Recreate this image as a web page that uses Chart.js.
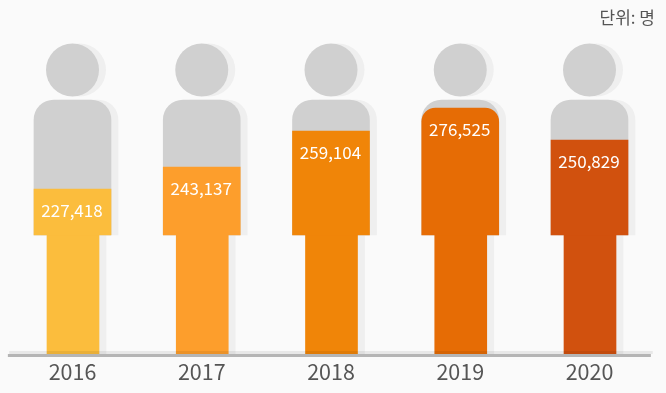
<!DOCTYPE html>
<html>
<head>
<meta charset="utf-8">
<script src="https://cdn.jsdelivr.net/npm/chart.js@4"></script>
<style>
  html, body { margin: 0; padding: 0; background: #fafafa; }
  canvas { display: block; }
</style>
</head>
<body>
<canvas id="myChart" width="666" height="393"></canvas>
<script>
//*************DATA******************* */
const years = ["2016", "2017", "2018", "2019", "2020"];
const people = [227418, 243137, 259104, 276525, 250829];
// height of the coloured fill (it is not proportional to the numbers)
const fillLevels = [165, 187, 223, 246, 214];
const fillColors = ["#fbbd3d", "#fd9e2c", "#f08508", "#e66c05", "#d1510e"];
const unitLabel = "단위: 명";
//********************************************** */

// figure parts, in y axis units
const legTop = 119, torsoTop = 254, headY = 284;
const xIndex = years.map((y, i) => i);
const FONT = '"Noto Sans CJK KR", "Noto Sans", sans-serif';
const GRAY = "#d0d0d0", SHADOW = "#efefef";

const range = (from, to) => xIndex.map((i) => ({ x: i, y: [from, to] }));
const head = xIndex.map((i) => ({ x: i, y: headY }));

const bar = (data, width, color, xAxisID, order, extra) =>
  Object.assign({ type: "bar", data, barThickness: width, backgroundColor: color,
    grouped: false, xAxisID, order, borderSkipped: false }, extra);
const round = { borderRadius: { topLeft: 20, topRight: 20, bottomLeft: 0, bottomRight: 0 } };
const dot = (color, xAxisID, order) => ({ type: "scatter", data: head, xAxisID, order,
  pointRadius: 26.5, pointHoverRadius: 26.5, backgroundColor: color, borderWidth: 0, clip: false });

const datasets = [
  // shadow, on the shifted axis
  dot(SHADOW, "xShadow", 20),
  bar(range(legTop, torsoTop), 77, SHADOW, "xShadow", 19, round),
  bar(range(0, legTop), 53, SHADOW, "xShadow", 18),
  // figure
  dot(GRAY, "x", 10),
  bar(range(legTop, torsoTop), 77, GRAY, "x", 9, round),
  bar(range(0, legTop), 52, fillColors, "xLegs", 8),
  bar(xIndex.map((i) => ({ x: i, y: [legTop, fillLevels[i]] })), 77, fillColors, "x", 7, {
    borderRadius: (c) => {
      const r = fillLevels[c.dataIndex] > torsoTop - 20 ? 14 : 0;
      return { topLeft: r, topRight: r, bottomLeft: 0, bottomRight: 0 };
    },
  }),
  // faint band and axis line
  { type: "line", data: [{ x: -0.49, y: 1.5 }, { x: 4.49, y: 1.5 }], xAxisID: "x", order: 2,
    borderColor: "rgba(0,0,0,0.07)", borderWidth: 3, pointRadius: 0 },
  { type: "line", data: [{ x: -0.507, y: -1.5 }, { x: 4.475, y: -1.5 }], xAxisID: "x", order: 1,
    borderColor: "#b5b5b5", borderWidth: 3, pointRadius: 0 },
];

const textPlugin = {
  id: "textPlugin",
  afterDatasetsDraw(chart) {
    const { ctx, scales } = chart;
    ctx.save();
    ctx.fillStyle = "#fff";
    ctx.font = "17px " + FONT;
    ctx.textAlign = "center";
    ctx.textBaseline = "middle";
    people.forEach((v, i) => {
      ctx.fillText(v.toLocaleString("en-US"), scales.x.getPixelForValue(i) - 0.5, scales.y.getPixelForValue(fillLevels[i]) + 22);
    });
    ctx.fillStyle = "#555";
    ctx.font = "17px " + FONT;
    ctx.textAlign = "right";
    ctx.fillText(unitLabel, 655, 18);
    ctx.restore();
  },
};

// hidden copy of the x axis moved by some pixels to the right
const shifted = (px) => ({ type: "linear", display: false, offset: false, min: -0.5 - px / 129.25, max: 4.5 - px / 129.25 });

const myChart = new Chart(document.getElementById("myChart"), {
  data: { datasets },
  plugins: [textPlugin],
  options: {
    responsive: false,
    animation: false,
    layout: { autoPadding: false, padding: { left: 7.875, right: 11.875, top: 0, bottom: 0 } },
    plugins: { legend: { display: false }, tooltip: { enabled: false } },
    scales: {
      x: {
        type: "linear", min: -0.5, max: 4.5, offset: false,
        grid: { display: false, drawTicks: false }, border: { display: false },
        afterFit: (s) => { s.height = 36; },
        afterBuildTicks: (s) => { s.ticks = xIndex.map((i) => ({ value: i })); },
        ticks: {
          autoSkip: false, maxRotation: 0, padding: 1.5, color: "#555",
          font: { family: FONT, size: 21.5 },
          callback: (v) => years[v],
        },
      },
      xShadow: shifted(7),
      xLegs: shifted(0.5),
      y: { display: false, min: -3, max: 354 },
    },
  },
});
</script>
</body>
</html>
